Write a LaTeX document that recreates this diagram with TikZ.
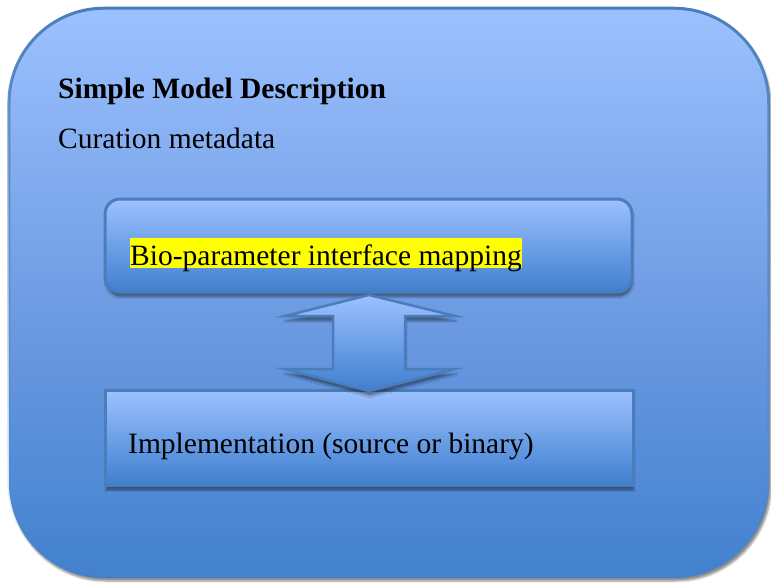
\documentclass[tikz,border=0pt]{standalone}
\usepackage{fontspec}
\setmainfont{Liberation Serif}
\usetikzlibrary{shadows.blur,fadings}

\definecolor{edgeblue}{RGB}{74,126,187}
\definecolor{lightblue}{RGB}{156,193,255}
\definecolor{midblue}{RGB}{112,157,228}
\definecolor{deepblue}{RGB}{66,129,206}
\definecolor{boxbottom}{RGB}{63,127,207}
\definecolor{hlyellow}{RGB}{255,255,0}

% outline of the container fades out towards its lower edge
\tikzfading[name=edgefade, top color=transparent!0,
  middle color=transparent!15, bottom color=transparent!100]

\tikzset{
  panel/.style={top color=lightblue, bottom color=deepblue, middle color=midblue,
    blur shadow={shadow xshift=2pt, shadow yshift=-3pt, shadow blur steps=6,
      shadow opacity=45}},
  paneledge/.style={draw=edgeblue, line width=3pt, path fading=edgefade},
  innerbox/.style={draw=edgeblue, line width=3pt, top color=lightblue,
    bottom color=boxbottom,
    blur shadow={shadow xshift=1pt, shadow yshift=-5pt, shadow blur steps=3,
      shadow opacity=40}},
  label/.style={anchor=base west, inner sep=0pt,
    font=\fontsize{29.5}{34}\selectfont},
}

\begin{document}
\begin{tikzpicture}[x=1pt, y=-1pt]
  \useasboundingbox (0,0) rectangle (771,582);

  % outer container
  \path[panel, rounded corners=95pt] (9,8) rectangle (769,578);
  \path[paneledge, rounded corners=95pt] (9,8) rectangle (769,578);

  % headings
  \node[label, font=\fontsize{29.5}{34}\selectfont\bfseries] (title) at (58,98)
    {Simple Model Description};
  \node[label] (curation) at (58,148) {Curation metadata};

  % mapping box
  \path[innerbox, rounded corners=15pt] (105,199) rectangle (632,292);
  \node[label, fill=hlyellow, text height=27pt, text depth=3pt] (mapping)
    at (130,265) {Bio-parameter interface mapping};

  % implementation box
  \path[innerbox] (105,390) rectangle (633,485);
  \node[label] (impl) at (128,453) {Implementation (source or binary)};

  % two-way arrow between the boxes
  \path[innerbox, line width=2.5pt, line join=miter]
    (369,295) -- (455,316) -- (405,316) -- (405,369) -- (455,369)
    -- (369,391) -- (285,369) -- (333,369) -- (333,316) -- (285,316) -- cycle;
\end{tikzpicture}
\end{document}
